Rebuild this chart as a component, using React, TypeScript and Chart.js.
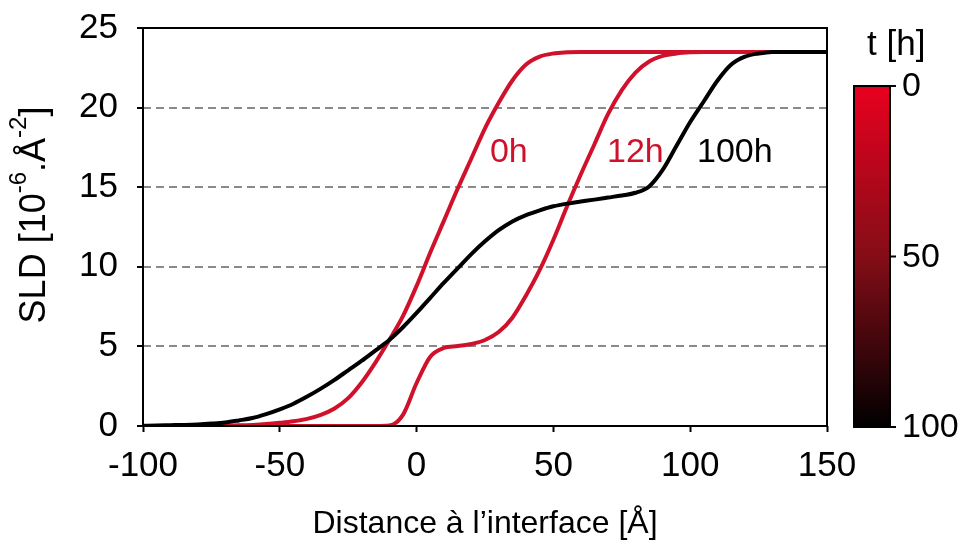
import React, { useEffect, useRef } from 'react';
import { Chart, registerables } from 'chart.js';

Chart.register(...registerables);

// ---------- data ----------
const DISTANCE = [
  -100, -95, -90, -85, -80, -75, -70, -65, -60, -55, -50, -45, -40, -35, -30, -25, -20, -15, -10, -5,
  0, 5, 10, 15, 20, 25, 30, 35, 40, 45, 50, 55, 60, 65, 70, 75, 80, 85, 90, 95,
  100, 105, 110, 115, 120, 125, 130, 135, 140, 145, 150,
];

const SLD_0H = [
  0, 0, 0, 0, 0, 0.01, 0.02, 0.04, 0.07, 0.12, 0.2, 0.3, 0.45, 0.7, 1.1, 1.75, 2.75, 4.0, 5.4, 6.9,
  8.8, 10.9, 12.9, 14.9, 16.8, 18.7, 20.3, 21.7, 22.7, 23.2, 23.4, 23.47, 23.5, 23.5, 23.5, 23.5, 23.5, 23.5, 23.5, 23.5,
  23.5, 23.5, 23.5, 23.5, 23.5, 23.5, 23.5, 23.5, 23.5, 23.5, 23.5,
];

const SLD_12H = [
  0, 0, 0, 0, 0, 0, 0, 0, 0, 0, 0, 0, 0, 0, 0, 0, 0, 0, 0.03, 0.7,
  2.7, 4.35, 4.9, 5.02, 5.15, 5.4, 5.9, 6.8, 8.2, 9.8, 11.7, 13.8, 15.8, 17.7, 19.6, 21.1, 22.2, 22.9, 23.25, 23.4,
  23.47, 23.5, 23.5, 23.5, 23.5, 23.5, 23.5, 23.5, 23.5, 23.5, 23.5,
];

const SLD_100H = [
  0.02, 0.03, 0.05, 0.07, 0.1, 0.15, 0.22, 0.35, 0.5, 0.75, 1.05, 1.4, 1.85, 2.35, 2.9, 3.5, 4.1, 4.75, 5.4, 6.2,
  7.1, 8.05, 9.0, 9.9, 10.8, 11.6, 12.3, 12.85, 13.25, 13.55, 13.8, 13.97, 14.1, 14.22, 14.35, 14.48, 14.65, 15.05, 16.1, 17.6,
  19.1, 20.4, 21.7, 22.7, 23.2, 23.4, 23.5, 23.5, 23.5, 23.5, 23.5,
];

const SERIES_NAMES = ['0h', '12h', '100h'];
const SERIES_VALUES = [SLD_0H, SLD_12H, SLD_100H];
const SERIES_COLORS = ['#d0112b', '#d0112b', '#000000'];
const SERIES_ORDER = [2, 1, 0];

// curve label anchors (data coordinates: distance, SLD at text baseline)
const LABEL_X = [26.8, 69.6, 102.5];
const LABEL_Y = [16.6, 16.6, 16.6];

const X_MIN = -100;
const X_MAX = 150;
const X_STEP = 50;
const Y_MIN = 0;
const Y_MAX = 25;
const Y_STEP = 5;
const DASHED_LEVELS = [5, 10, 15, 20];

const X_TITLE = 'Distance à l\u2019interface [Å]';
const Y_TITLE = [
  { t: 'SLD [10' },
  { t: '-6', sup: true },
  { t: '.Å' },
  { t: '-2', sup: true },
  { t: ']' },
];

const COLORBAR_TITLE = 't [h]';
const COLORBAR_TICKS = [0, 50, 100];
const COLORBAR_MIN = 0;
const COLORBAR_MAX = 100;

const FONT = "'Liberation Sans', Arial, Helvetica, sans-serif";

type Seg = { t: string; sup?: boolean };

function drawRich(
  ctx: CanvasRenderingContext2D,
  segs: Seg[],
  cx: number,
  baseY: number,
  mainSize: number,
  supSize: number,
  raise: number
) {
  const widths = segs.map((s) => {
    ctx.font = `${s.sup ? supSize : mainSize}px ${FONT}`;
    return ctx.measureText(s.t).width;
  });
  const total = widths.reduce((a, b) => a + b, 0);
  let x = cx - total / 2;
  ctx.textAlign = 'left';
  ctx.textBaseline = 'alphabetic';
  segs.forEach((s, i) => {
    ctx.font = `${s.sup ? supSize : mainSize}px ${FONT}`;
    ctx.fillText(s.t, x, s.sup ? baseY - raise : baseY);
    x += widths[i];
  });
}

const decorPlugin = {
  id: 'decor',
  afterDraw(chart: any) {
    const ctx: CanvasRenderingContext2D = chart.ctx;
    const { left, right, top, bottom } = chart.chartArea;
    const xs = chart.scales.x;
    const ys = chart.scales.y;
    ctx.save();

    // frame
    ctx.strokeStyle = '#000';
    ctx.lineWidth = 2;
    ctx.setLineDash([]);
    ctx.strokeRect(left, top, right - left, bottom - top);

    // curve labels
    ctx.font = `34px ${FONT}`;
    ctx.textAlign = 'left';
    ctx.textBaseline = 'alphabetic';
    SERIES_NAMES.forEach((n, i) => {
      ctx.fillStyle = SERIES_COLORS[i];
      ctx.fillText(n, xs.getPixelForValue(LABEL_X[i]), ys.getPixelForValue(LABEL_Y[i]));
    });

    // x title
    ctx.fillStyle = '#000';
    ctx.font = `32px ${FONT}`;
    ctx.textAlign = 'center';
    ctx.fillText(X_TITLE, (left + right) / 2, 533);

    // y title (rotated, with superscripts)
    ctx.save();
    ctx.translate(45, 215);
    ctx.rotate(-Math.PI / 2);
    ctx.fillStyle = '#000';
    drawRich(ctx, Y_TITLE, 0, 0, 36, 24, 19);
    ctx.restore();

    // colour bar
    const cbL = 854;
    const cbT = 86;
    const cbW = 36;
    const cbH = 341;
    const grad = ctx.createLinearGradient(0, cbT, 0, cbT + cbH);
    grad.addColorStop(0, '#e8001f');
    grad.addColorStop(0.5, '#840d17');
    grad.addColorStop(1, '#000000');
    ctx.fillStyle = grad;
    ctx.fillRect(cbL, cbT, cbW, cbH);
    ctx.strokeStyle = '#000';
    ctx.lineWidth = 2;
    ctx.strokeRect(cbL, cbT, cbW, cbH);

    ctx.font = `34px ${FONT}`;
    ctx.fillStyle = '#000';
    ctx.textAlign = 'left';
    ctx.textBaseline = 'middle';
    COLORBAR_TICKS.forEach((t) => {
      const y = cbT + ((t - COLORBAR_MIN) / (COLORBAR_MAX - COLORBAR_MIN)) * cbH;
      ctx.beginPath();
      ctx.moveTo(cbL + cbW, y);
      ctx.lineTo(cbL + cbW + 6, y);
      ctx.stroke();
      ctx.fillText(String(t), cbL + cbW + 12, y + 1);
    });

    ctx.font = `35px ${FONT}`;
    ctx.textBaseline = 'alphabetic';
    ctx.fillText(COLORBAR_TITLE, 867, 55);

    ctx.restore();
  },
};

export default function App() {
  const canvasRef = useRef<HTMLCanvasElement | null>(null);

  useEffect(() => {
    if (!canvasRef.current) return;
    const datasets = SERIES_NAMES.map((name, i) => ({
      label: name,
      data: DISTANCE.map((x, j) => ({ x, y: SERIES_VALUES[i][j] })),
      borderColor: SERIES_COLORS[i],
      backgroundColor: SERIES_COLORS[i],
      borderWidth: 4,
      pointRadius: 0,
      fill: false,
      cubicInterpolationMode: 'monotone' as const,
      order: SERIES_ORDER[i],
    }));

    const chart = new Chart(canvasRef.current, {
      type: 'line',
      data: { datasets },
      plugins: [decorPlugin],
      options: {
        animation: false,
        responsive: false,
        maintainAspectRatio: false,
        devicePixelRatio: 1,
        layout: { padding: { top: 28, right: 138, left: 0, bottom: 0 } },
        plugins: { legend: { display: false }, tooltip: { enabled: false } },
        scales: {
          x: {
            type: 'linear',
            min: X_MIN,
            max: X_MAX,
            afterFit: (s: any) => {
              s.height = 116;
              s.paddingLeft = 0;
              s.paddingRight = 0;
              s.paddingTop = 0;
              s.paddingBottom = 0;
            },
            ticks: {
              stepSize: X_STEP,
              color: '#000',
              font: { family: FONT, size: 35 },
              padding: 13,
              maxRotation: 0,
              autoSkip: false,
            },
            grid: {
              drawOnChartArea: false,
              drawTicks: true,
              tickLength: 6,
              tickWidth: 2,
              tickColor: '#000',
              tickBorderDash: [],
            },
            border: { display: false },
          },
          y: {
            type: 'linear',
            min: Y_MIN,
            max: Y_MAX,
            afterFit: (s: any) => {
              s.width = 143;
              s.paddingLeft = 0;
              s.paddingRight = 0;
              s.paddingTop = 0;
              s.paddingBottom = 0;
            },
            ticks: {
              stepSize: Y_STEP,
              color: '#000',
              font: { family: FONT, size: 35 },
              padding: 19,
            },
            grid: {
              color: (c: any) =>
                c.tick && DASHED_LEVELS.includes(c.tick.value) ? '#8a8a8a' : 'rgba(0,0,0,0)',
              lineWidth: 2,
              drawTicks: true,
              tickLength: 6,
              tickWidth: 2,
              tickColor: '#000',
              tickBorderDash: [],
            },
            border: { display: false, dash: [8, 5] },
          },
        },
      },
    });
    return () => chart.destroy();
  }, []);

  return (
    <div style={{ position: 'fixed', left: 0, top: 0, width: 965, height: 542, background: '#fff' }}>
      <canvas ref={canvasRef} width={965} height={542} style={{ width: 965, height: 542, display: 'block' }} />
    </div>
  );
}
